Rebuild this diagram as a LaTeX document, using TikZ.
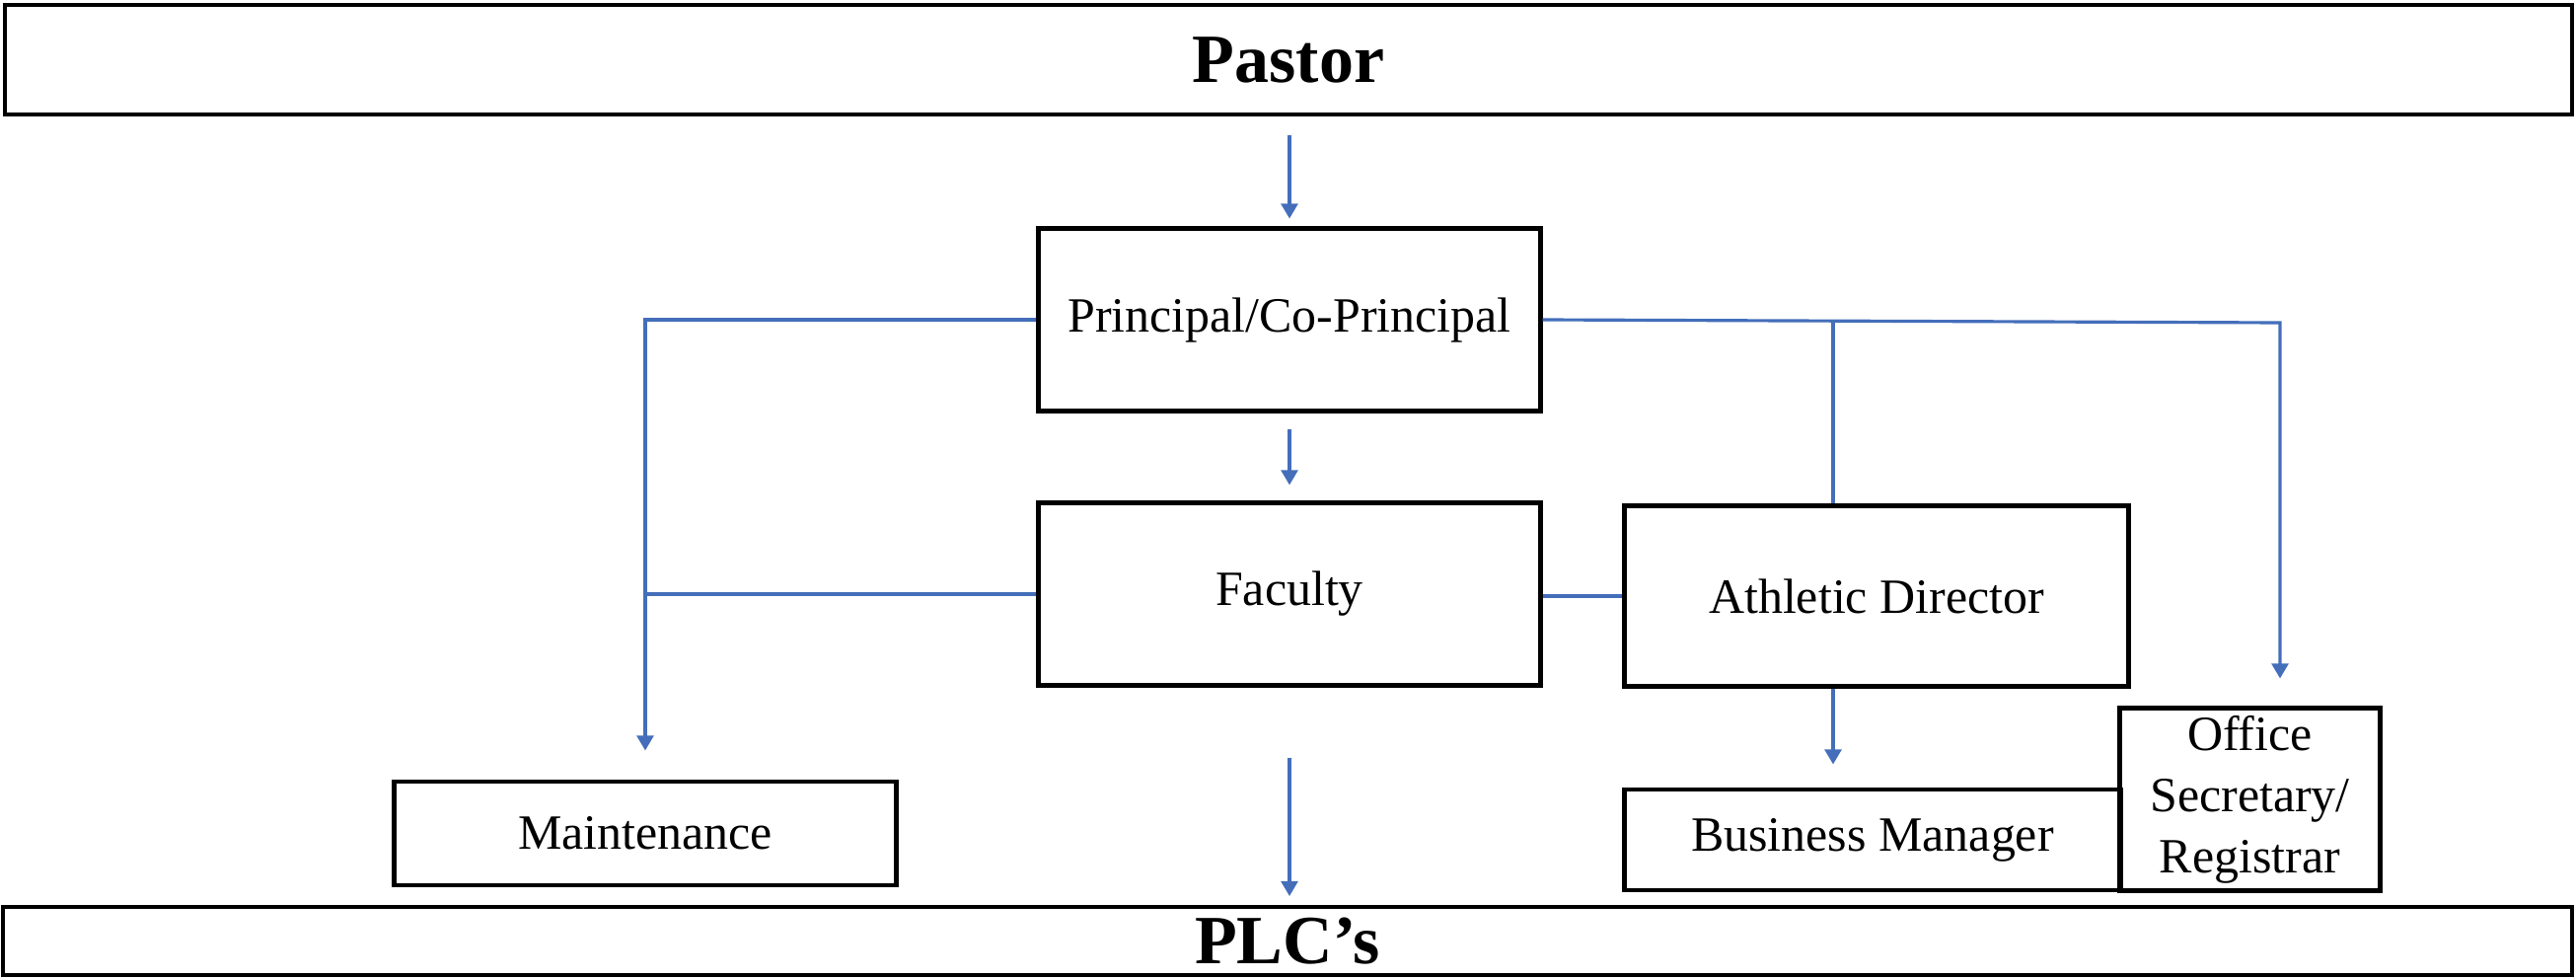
\documentclass[tikz,border=0pt]{standalone}
\usepackage{fontspec}
\setmainfont{Liberation Serif}
\usetikzlibrary{arrows.meta}
\definecolor{lineblue}{RGB}{68,110,186}
\begin{document}
\begin{tikzpicture}[x=0.01cm,y=-0.01cm]
        \tikzstyle{box}=[rectangle,draw=black,line width=1.4pt,inner sep=0pt,align=center,font=\fontsize{14.2}{17.6}\selectfont]
        \tikzstyle{band}=[rectangle,draw=black,line width=1.1pt,inner sep=0pt,font=\bfseries\fontsize{19.9}{24}\selectfont]
        \tikzstyle{edge}=[draw,lineblue,line width=0.9pt]
        \tikzstyle{arrow}=[edge,-{Triangle[length=4.3pt,width=4.8pt]}]
        \useasboundingbox (0,0) rectangle (2611,991);
    	\begin{scope}
         \node [band,minimum width=26cm,minimum height=1.11cm] (pastor) at (1306,60.5) {Pastor};
         \node [band,minimum width=26.02cm,minimum height=0.69cm] (plc) at (1305,953.5) {PLC’s};

         \node [box,minimum width=5.08cm,minimum height=1.84cm] (principal) at (1307,324) {Principal/Co-Principal};
         \node [box,minimum width=5.08cm,minimum height=1.84cm] (faculty) at (1307,602) {Faculty};
         \node [box,minimum width=5.1cm,minimum height=1.82cm] (athletic) at (1902,604) {Athletic Director};
         \node [box,minimum width=5.08cm,minimum height=1.05cm] (maint) at (654,844.5) {Maintenance};
         \node [box,minimum width=5.02cm,minimum height=1.02cm] (business) at (1898,851) {Business Manager};
         \node [box,minimum width=2.63cm,minimum height=1.84cm] (office) at (2280.5,810) {Office\\Secretary/\\Registrar};

         \coordinate (ajoin) at (1858,325);
         \coordinate (ojoin) at (2311,327);

         % down the middle
         \path[arrow,shorten <=0.19cm,shorten >=0.08cm] (pastor.south -| principal.north) to (principal.north);
         \path[arrow,shorten <=0.16cm,shorten >=0.16cm] (principal.south) to (faculty.north);
         \path[arrow,shorten <=0.71cm,shorten >=0.09cm] (faculty.south) to (faculty.south |- plc.north);

         % left branch
         \path[arrow,shorten >=0.29cm] (principal.west) -| (maint.north);
         \path[edge] (faculty.west) to (faculty.west -| maint.north);

         % right branch
         \path[arrow,shorten >=0.28cm] (principal.east) -- (ojoin) -- (ojoin |- office.north);
         \path[edge] (ajoin) to (ajoin |- athletic.north);
         \path[edge] (faculty.east |- athletic.west) to (athletic.west);
         \path[arrow,shorten >=0.23cm] (ajoin |- athletic.south) to (ajoin |- business.north);
         \end{scope}
\end{tikzpicture}
\end{document}
